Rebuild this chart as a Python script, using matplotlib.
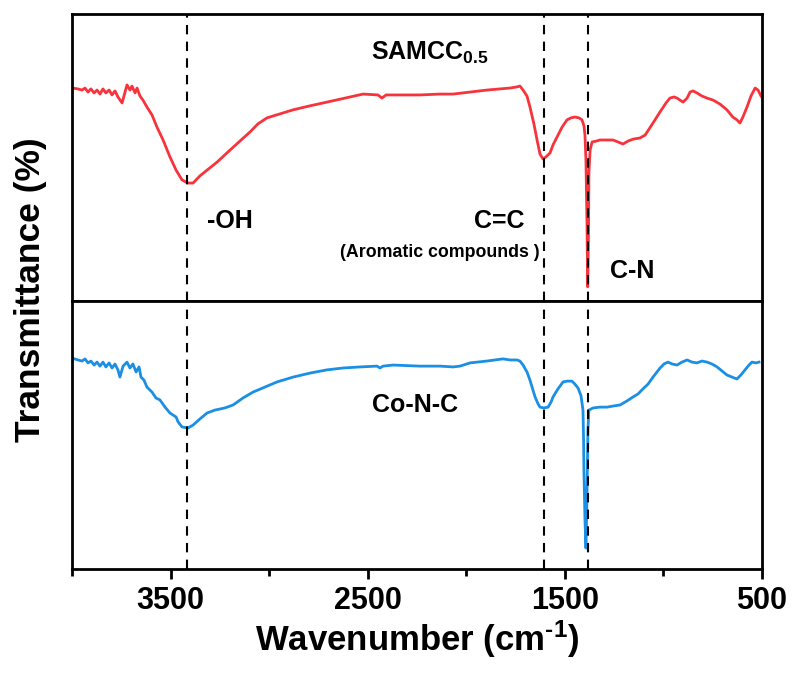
import numpy as np
import matplotlib
matplotlib.use("Agg")
import matplotlib.pyplot as plt
from matplotlib.ticker import MultipleLocator

plt.rcParams['font.family'] = ['Liberation Sans', 'DejaVu Sans']
plt.rcParams['font.weight'] = 'bold'
plt.rcParams['mathtext.fontset'] = 'custom'
plt.rcParams['mathtext.rm'] = 'Liberation Sans:bold'
plt.rcParams['mathtext.bf'] = 'Liberation Sans:bold'
plt.rcParams['mathtext.it'] = 'Liberation Sans:bold'
plt.rcParams['mathtext.default'] = 'bf'

# SAMCC0.5 spectrum (wavenumber cm-1, transmittance a.u.)
wn_samcc = [4000, 3970, 3949, 3934, 3919, 3904, 3888, 3873, 3858, 3843, 3828, 3812, 3797, 3782, 3767,
            3746, 3731, 3721, 3706, 3696, 3680, 3670, 3655, 3640, 3620, 3594, 3569, 3538, 3503, 3472,
            3442, 3412, 3386, 3351, 3315, 3264, 3214, 3158, 3097, 3057, 3011, 2945, 2879, 2793, 2707,
            2615, 2524, 2448, 2428, 2407, 2336, 2235, 2133, 2067, 1981, 1895, 1829, 1778, 1743, 1728,
            1712, 1692, 1677, 1657, 1641, 1626, 1611, 1596, 1575, 1560, 1540, 1514, 1489, 1469, 1449,
            1428, 1413, 1403, 1398, 1393, 1388, 1384, 1380, 1378, 1372, 1362, 1342, 1322, 1286, 1256,
            1230, 1205, 1180, 1154, 1119, 1093, 1073, 1053, 1017, 987, 967, 946, 931, 916, 900,
            880, 865, 850, 830, 804, 779, 748, 713, 678, 648, 627, 612, 597, 576, 556,
            535, 520, 505]
t_samcc = [74.2, 73.9, 73.5, 74.2, 72.8, 73.9, 72.5, 73.5, 72.1, 73.9, 72.5, 73.5, 71.8, 73.2, 71.1,
           69.0, 72.8, 75.3, 73.5, 74.9, 72.5, 74.2, 71.4, 70.0, 67.6, 64.8, 60.6, 56.1, 50.2, 45.6,
           42.2, 41.1, 41.1, 43.6, 45.6, 48.4, 51.6, 55.1, 58.9, 61.7, 63.8, 65.2, 66.6, 68.0, 69.3,
           70.7, 72.1, 71.8, 70.7, 71.8, 71.8, 71.8, 72.1, 72.1, 72.8, 73.5, 73.9, 74.2, 74.6, 74.9,
           73.5, 71.4, 67.6, 61.7, 56.1, 51.2, 49.5, 50.2, 51.6, 54.4, 57.1, 60.6, 63.1, 63.8, 64.1,
           63.8, 63.1, 61.0, 57.8, 49.1, 28.2, 4.9, 24.7, 44.6, 52.6, 55.4, 55.7, 56.1, 56.1, 56.1,
           55.4, 54.7, 55.7, 56.4, 56.8, 57.8, 59.9, 62.0, 65.9, 69.0, 70.7, 71.1, 70.7, 70.0, 69.3,
           70.7, 72.8, 73.2, 72.5, 71.4, 70.7, 70.0, 68.6, 66.6, 64.1, 63.1, 62.0, 64.1, 67.6, 71.4,
           74.2, 73.5, 71.4]

# Co-N-C spectrum
wn_conc = [4000, 3970, 3949, 3934, 3919, 3904, 3888, 3873, 3858, 3843, 3828, 3812, 3797, 3782, 3767,
           3757, 3741, 3721, 3706, 3691, 3675, 3660, 3650, 3635, 3620, 3594, 3574, 3554, 3528, 3503,
           3472, 3462, 3442, 3412, 3386, 3351, 3315, 3275, 3224, 3183, 3133, 3082, 3021, 2960, 2879,
           2793, 2707, 2625, 2539, 2453, 2438, 2422, 2372, 2235, 2133, 2067, 2032, 1981, 1895, 1814,
           1778, 1743, 1728, 1712, 1692, 1677, 1662, 1651, 1636, 1626, 1606, 1585, 1570, 1560, 1535,
           1509, 1489, 1464, 1449, 1433, 1418, 1408, 1405, 1403, 1398, 1393, 1388, 1385, 1383, 1378,
           1367, 1357, 1322, 1286, 1256, 1220, 1185, 1154, 1129, 1104, 1078, 1053, 1033, 1017, 997,
           977, 956, 931, 906, 880, 855, 830, 804, 779, 754, 728, 703, 678, 652, 627,
           607, 586, 566, 551, 531, 515]
t_conc = [78.7, 78.0, 77.6, 78.4, 76.9, 77.6, 76.1, 77.2, 75.7, 77.2, 75.4, 76.9, 75.0, 76.5, 74.3,
          71.6, 75.7, 77.2, 75.0, 76.5, 73.5, 75.4, 71.6, 70.5, 67.9, 66.0, 63.8, 63.1, 60.4, 58.2,
          56.7, 54.9, 53.0, 52.6, 53.7, 56.0, 58.2, 59.3, 60.1, 61.2, 63.8, 66.0, 67.9, 69.8, 71.6,
          73.1, 74.3, 75.0, 75.4, 75.7, 75.0, 75.7, 76.1, 75.7, 75.7, 75.4, 75.7, 76.9, 77.6, 78.4,
          78.0, 78.0, 77.6, 76.1, 73.5, 70.5, 66.8, 64.2, 61.6, 60.4, 60.1, 60.4, 62.3, 64.2, 67.2,
          69.8, 70.1, 70.1, 69.0, 67.5, 64.6, 59.3, 48.1, 35.8, 18.3, 7.8, 25.7, 41.8, 51.9, 59.3,
          59.7, 60.1, 60.4, 60.4, 60.8, 61.2, 62.7, 64.2, 65.3, 67.2, 69.0, 71.6, 73.5, 75.0, 76.5,
          77.2, 76.5, 76.1, 77.2, 78.0, 77.2, 76.9, 77.6, 77.2, 76.5, 75.4, 73.9, 72.4, 71.6, 70.9,
          72.4, 74.3, 76.1, 77.2, 76.9, 77.2]

peaks = [3415, 1605, 1384]

red = '#f7333c'
blue = '#1a8fe3'
lw_spine = 2.0

fig = plt.figure(figsize=(7.97, 6.73), dpi=100)
ax1 = fig.add_axes([72/797, 1-301/673, 690/797, 287/673])
ax2 = fig.add_axes([72/797, 1-569/673, 690/797, 268/673])

ax1.plot(wn_samcc, t_samcc, color=red, lw=2.0)
ax2.plot(wn_conc, t_conc, color=blue, lw=2.0)

for ax in (ax1, ax2):
    ax.set_xlim(4000, 500)
    ax.set_ylim(0, 100)
    ax.set_yticks([])
    for p in peaks:
        ax.axvline(p, color='k', lw=1.5, ls=(0, (4.5, 3.5)))
    for s in ax.spines.values():
        s.set_linewidth(lw_spine)

ax1.set_xticks([])

ax2.set_xticks([3500, 2500, 1500, 500])
ax2.xaxis.set_minor_locator(MultipleLocator(500))
ax2.tick_params(axis='x', which='major', direction='out', length=7, width=2, labelsize=22, pad=5)
ax2.tick_params(axis='x', which='minor', direction='out', length=5, width=2)

ax1.text(2483, 84, r'SAMCC$_{0.5}$', fontsize=18, fontweight='bold', ha='left', va='baseline')
ax1.text(3315, 25.4, '-OH', fontsize=18, fontweight='bold', ha='left', va='baseline')
ax1.text(1961, 25.4, 'C=C', fontsize=18, fontweight='bold', ha='left', va='baseline')
ax1.text(2641, 15.2, '(Aromatic compounds )', fontsize=12.8, fontweight='bold', ha='left', va='baseline')
ax1.text(1271, 8.0, 'C-N', fontsize=18, fontweight='bold', ha='left', va='baseline')
ax2.text(2478, 58.6, 'Co-N-C', fontsize=18, fontweight='bold', ha='left', va='baseline')

ax2.set_xlabel(r'Wavenumber (cm$^{\text{-}1}$)', fontsize=25, fontweight='bold', labelpad=2)
fig.text(0.038, 1-290/673, 'Transmittance (%)', fontsize=25.5, fontweight='bold',
         rotation=90, ha='center', va='center')

fig.savefig('out.png', dpi=100)
